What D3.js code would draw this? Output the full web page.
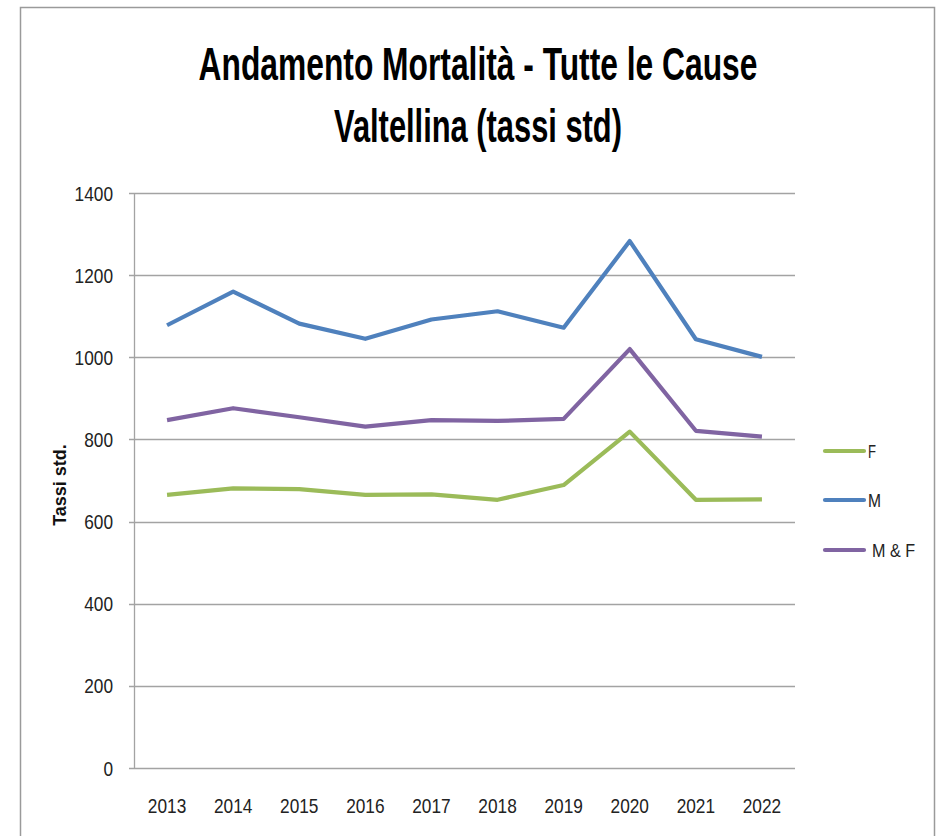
<!DOCTYPE html>
<html>
<head>
<meta charset="utf-8">
<script src="https://cdn.jsdelivr.net/npm/d3@7"></script>
<style>
  body { margin: 0; background: #fff; }
  text { font-family: "Liberation Sans", Arial, sans-serif; }
</style>
</head>
<body>
<svg id="chart" width="939" height="836"></svg>
<script>
// data
const years = ["2013","2014","2015","2016","2017","2018","2019","2020","2021","2022"];
const valuesF  = [665, 681, 679, 665, 666, 653, 689, 819, 653, 654];
const valuesM  = [1078, 1160, 1082, 1045, 1092, 1112, 1072, 1283, 1044, 1001];
const valuesMF = [847, 876, 854, 831, 847, 845, 850, 1020, 821, 807];
const seriesNames = ["F", "M", "M & F"];
const yTicks = [0, 200, 400, 600, 800, 1000, 1200, 1400];

const colors = {"F": "#9BBB59", "M": "#4F81BD", "M & F": "#8064A2"};
const seriesData = {"F": valuesF, "M": valuesM, "M & F": valuesMF};

const svg = d3.select("#chart");

// outer frame
svg.append("rect")
  .attr("x", 20.5).attr("y", 7.5)
  .attr("width", 914).attr("height", 840)
  .attr("fill", "none").attr("stroke", "#9a9a9a").attr("stroke-width", 1.5);

//********** scales
const plot = {left: 134, right: 795, top: 193, bottom: 768};

const x = d3.scaleBand()
  .domain(years)
  .range([plot.left, plot.right]);

const y = d3.scaleLinear()
  .domain([0, 1400])
  .range([plot.bottom, plot.top]);

// condensed look: ~9.6px per digit, like the original Calibri labels
const digitW = 9.6;

//********** gridlines
svg.append("g")
  .selectAll("line")
  .data(yTicks)
  .join("line")
  .attr("x1", plot.left - 5).attr("x2", plot.right)
  .attr("y1", d => Math.round(y(d)) + 0.5).attr("y2", d => Math.round(y(d)) + 0.5)
  .attr("stroke", "#a3a3a3").attr("stroke-width", 1.3);

// y axis line
svg.append("line")
  .attr("x1", plot.left + 0.5).attr("x2", plot.left + 0.5)
  .attr("y1", plot.top).attr("y2", plot.bottom)
  .attr("stroke", "#a3a3a3").attr("stroke-width", 1.3);

// y tick labels
svg.append("g")
  .selectAll("text")
  .data(yTicks)
  .join("text")
  .attr("x", 113)
  .attr("y", d => y(d))
  .attr("dy", "0.36em")
  .attr("text-anchor", "end")
  .attr("font-size", 21)
  .attr("textLength", d => String(d).length * digitW)
  .attr("lengthAdjust", "spacingAndGlyphs")
  .attr("fill", "#222")
  .text(d => d);

// x tick labels
svg.append("g")
  .selectAll("text")
  .data(years)
  .join("text")
  .attr("x", d => x(d) + x.bandwidth() / 2)
  .attr("y", 805)
  .attr("dy", "0.36em")
  .attr("text-anchor", "middle")
  .attr("font-size", 21)
  .attr("textLength", d => d.length * digitW)
  .attr("lengthAdjust", "spacingAndGlyphs")
  .attr("fill", "#222")
  .text(d => d);

// y axis title
svg.append("text")
  .attr("transform", "translate(66,485) rotate(-90)")
  .attr("text-anchor", "middle")
  .attr("font-family", "'DejaVu Sans', sans-serif")
  .attr("font-weight", "bold")
  .attr("font-size", 18)
  .attr("fill", "#111")
  .text("Tassi std.");

//********** lines
const line = d3.line()
  .x((d, i) => x(years[i]) + x.bandwidth() / 2)
  .y(d => y(d));

svg.append("g")
  .selectAll("path")
  .data(seriesNames)
  .join("path")
  .attr("d", s => line(seriesData[s]))
  .attr("fill", "none")
  .attr("stroke", s => colors[s])
  .attr("stroke-width", 4.2)
  .attr("stroke-linejoin", "round");

//********** legend
const legendY = [451, 500, 550];
const legendW = [8, 13, 43];
const legend = svg.append("g")
  .selectAll("g")
  .data(seriesNames)
  .join("g")
  .attr("transform", (d, i) => `translate(0,${legendY[i]})`);

legend.append("line")
  .attr("x1", 825).attr("x2", 864)
  .attr("stroke", d => colors[d])
  .attr("stroke-width", 4.2)
  .attr("stroke-linecap", "round");

legend.append("text")
  .attr("x", (d, i) => i === 2 ? 872 : 868)
  .attr("dy", "0.36em")
  .attr("font-size", 19)
  .attr("textLength", (d, i) => legendW[i])
  .attr("lengthAdjust", "spacingAndGlyphs")
  .attr("fill", "#222")
  .text(d => d);

//********** title (condensed horizontally to match the Calibri width)
const titleLines = [
  {text: "Andamento Mortalità - Tutte le Cause", y: 80, width: 559},
  {text: "Valtellina (tassi std)", y: 142, width: 288}
];
titleLines.forEach(t => {
  const el = svg.append("text")
    .attr("text-anchor", "middle")
    .attr("font-weight", "bold")
    .attr("font-size", 46)
    .attr("fill", "#000")
    .text(t.text);
  const k = t.width / el.node().getComputedTextLength();
  el.attr("transform", `translate(478,${t.y}) scale(${k},1)`);
});
</script>
</body>
</html>
